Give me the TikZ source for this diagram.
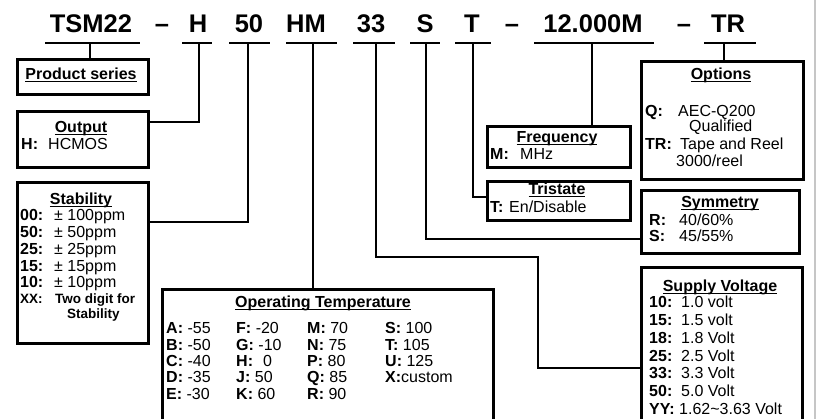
\documentclass[tikz,border=0pt]{standalone}
\usepackage{fontspec}
\setmainfont{Liberation Sans}

% underlined box titles
\newcommand{\ulbox}[1]{\setbox0\hbox{#1}\rlap{\rule[-2.2pt]{\wd0}{1.4pt}}\box0}

\tikzset{
  part/.style={font=\fontsize{25.5}{30}\selectfont\bfseries, anchor=base, inner sep=0pt},
  uline/.style={line width=2pt},
  conn/.style={line width=1.6pt},
  infobox/.style={draw, line width=2.6pt, anchor=north west, inner sep=0pt},
  txt/.style={font=\fontsize{16}{18}\selectfont, anchor=base west, inner sep=0pt},
  kw/.style={txt, font=\fontsize{16}{18}\selectfont\bfseries},
  kwsmall/.style={txt, font=\fontsize{13.5}{15}\selectfont\bfseries},
  ttl/.style={font=\fontsize{16}{18}\selectfont\bfseries, anchor=base, inner sep=0pt},
}

\begin{document}
\begin{tikzpicture}[x=1pt,y=-1pt]
    \useasboundingbox (0,0) rectangle (819,419);
    \fill[white] (0,0) rectangle (819,419);
    \clip (0,0) rectangle (819,419);
    \draw[line width=2pt, gray!45] (815,0) -- (815,419);

    % part number
    \node[part] (pSer) at (91,33) {TSM22};
    \node[part] (dash1) at (162,33) {\textendash};
    \node[part] (pOut) at (198,33) {H};
    \node[part] (pStb) at (249,33) {50};
    \node[part] (pTmp) at (306,33) {HM};
    \node[part] (pVlt) at (371,33) {33};
    \node[part] (pSym) at (425,33) {S};
    \node[part] (pTri) at (472,33) {T};
    \node[part] (dash2) at (512,33) {\textendash};
    \node[part] (pFrq) at (593,33) {12.000M};
    \node[part] (dash3) at (684,33) {\textendash};
    \node[part] (pOpt) at (728,33) {TR};
    \foreach \a/\b in {45/140,182/212,229/270,286/337,353/395,410/440,455/491,534/654,704/756}
        \draw[uline] (\a,43) -- (\b,43);

    \coordinate (uSer) at (90,43);
    \coordinate (uOut) at (199,43);
    \coordinate (uStb) at (248,43);
    \coordinate (uTmp) at (313,43);
    \coordinate (uVlt) at (376,43);
    \coordinate (bVlt) at (538,257);
    \coordinate (uSym) at (426,43);
    \coordinate (uTri) at (473,43);
    \coordinate (uFrq) at (592,43);
    \coordinate (uOpt) at (724,43);

    % boxes
    \node[infobox, minimum width=131pt, minimum height=35pt] (ser) at (16,58) {};
    \node[infobox, minimum width=131pt, minimum height=56pt] (out) at (16,110) {};
    \node[infobox, minimum width=131pt, minimum height=161pt] (stb) at (16,181) {};
    \node[infobox, minimum width=331pt, minimum height=140pt] (tmp) at (161,288) {};
    \node[infobox, minimum width=143pt, minimum height=41pt] (frq) at (486,125) {};
    \node[infobox, minimum width=143pt, minimum height=39pt] (tri) at (486,180) {};
    \node[infobox, minimum width=162pt, minimum height=118pt] (opt) at (640,60) {};
    \node[infobox, minimum width=158pt, minimum height=63pt] (sym) at (640,189) {};
    \node[infobox, minimum width=161pt, minimum height=160pt] (vlt) at (640,266) {};

    % connectors
    \draw[conn] (uSer) -- (uSer |- ser.north);
    \draw[conn] (uOut) |- ([yshift=-12pt]out.north east);
    \draw[conn] (uStb) |- ([yshift=-41pt]stb.north east);
    \draw[conn] (uTmp) -- (uTmp |- tmp.north);
    \draw[conn] (uVlt) |- (bVlt) |- ([yshift=-102pt]vlt.north west);
    \draw[conn] (uSym) |- ([yshift=-50pt]sym.north west);
    \draw[conn] (uTri) |- ([yshift=-17pt]tri.north west);
    \draw[conn] (uFrq) -- (uFrq |- frq.north);
    \draw[conn] (uOpt) -- (uOpt |- opt.north);

    % product series / output
    \node[ttl] (serT) at (81,80) {\ulbox{Product series}};
    \node[ttl] (outT) at (81,133) {\ulbox{Output}};
    \node[kw] (outK) at (21,150) {H:};
    \node[txt] (outV) at (48,150) {HCMOS};

    % stability
    \node[ttl] (stbT) at (81,205) {\ulbox{Stability}};
    \foreach \k/\v/\y [count=\i] in {00:/± 100ppm/221, 50:/± 50ppm/238, 25:/± 25ppm/255, 15:/± 15ppm/272, 10:/± 10ppm/288} {
        \node[kw] (stbK\i) at (20,\y) {\k};
        \node[txt] (stbV\i) at (54,\y) {\v};
    }
    \node[kwsmall] (stbK6) at (20,304) {XX:};
    \node[kwsmall] (stbV6) at (55,304) {Two digit for};
    \node[kwsmall] (stbV7) at (67,319) {Stability};

    % operating temperature
    \node[ttl] (tmpT) at (323,308) {\ulbox{Operating Temperature}};
    \foreach \e [count=\i] in {{\textbf{A:} -55},{\textbf{B:} -50},{\textbf{C:} -40},{\textbf{D:} -35},{\textbf{E:} -30}}
        \node[txt] (tmpA\i) at (166,{317.7+16.3*\i}) {\e};
    \foreach \e [count=\i] in {{\textbf{F:} -20},{\textbf{G:} -10},{\textbf{H:}\hspace{10pt}0},{\textbf{J:} 50},{\textbf{K:} 60}}
        \node[txt] (tmpF\i) at (236,{317.7+16.3*\i}) {\e};
    \foreach \e [count=\i] in {{\textbf{M:} 70},{\textbf{N:} 75},{\textbf{P:} 80},{\textbf{Q:} 85},{\textbf{R:} 90}}
        \node[txt] (tmpM\i) at (307,{317.7+16.3*\i}) {\e};
    \foreach \e [count=\i] in {{\textbf{S:} 100},{\textbf{T:} 105},{\textbf{U:} 125},{\textbf{X:}custom}}
        \node[txt] (tmpS\i) at (385,{317.7+16.3*\i}) {\e};

    % frequency / tristate
    \node[ttl] (frqT) at (557,143) {\ulbox{Frequency}};
    \node[kw] (frqK) at (490,160) {M:};
    \node[txt] (frqV) at (520,160) {MHz};
    \node[ttl] (triT) at (557,195) {\ulbox{Tristate}};
    \node[kw] (triK) at (490,213) {T:};
    \node[txt] (triV) at (509,213) {En/Disable};

    % options
    \node[ttl] (optT) at (721,80) {\ulbox{Options}};
    \node[kw] (optK1) at (645,117) {Q:};
    \node[txt] (optV1) at (678,117) {AEC-Q200};
    \node[txt] (optV2) at (689,132) {Qualified};
    \node[kw] (optK2) at (645,150) {TR:};
    \node[txt] (optV3) at (680,150) {Tape and Reel};
    \node[txt] (optV4) at (676,167) {3000/reel};

    % symmetry
    \node[ttl] (symT) at (720,208) {\ulbox{Symmetry}};
    \node[kw] (symK1) at (649,226) {R:};
    \node[txt] (symV1) at (679,226) {40/60\%};
    \node[kw] (symK2) at (649,242) {S:};
    \node[txt] (symV2) at (679,242) {45/55\%};

    % supply voltage
    \node[ttl] (vltT) at (720,292) {\ulbox{Supply Voltage}};
    \foreach \k/\v [count=\i] in {10:/1.0 volt, 15:/1.5 volt, 18:/1.8 Volt, 25:/2.5 Volt, 33:/3.3 Volt, 50:/5.0 Volt} {
        \node[kw] (vltK\i) at (649,{290.3+17.7*\i}) {\k};
        \node[txt] (vltV\i) at (681,{290.3+17.7*\i}) {\v};
    }
    \node[kw] (vltK7) at (649,414) {YY:};
    \node[txt] (vltV7) at (679,414) {1.62\textasciitilde 3.63 Volt};
\end{tikzpicture}
\end{document}
